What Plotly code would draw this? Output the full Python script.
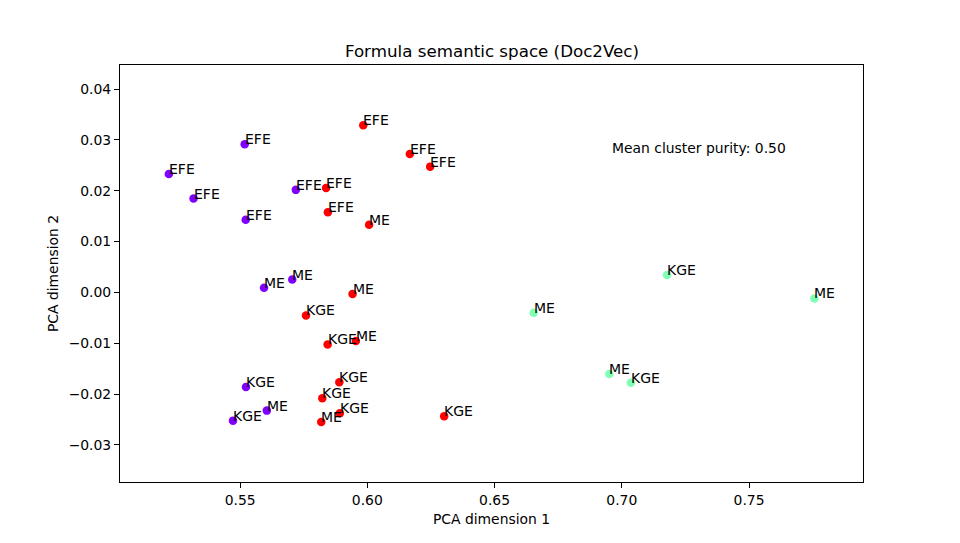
import plotly.graph_objects as go

# PCA coordinates of the formula embeddings
pc1 = [0.5220, 0.5317, 0.5518, 0.5522, 0.5719, 0.5594, 0.5705, 0.5523, 0.5605, 0.5472,
       0.5838, 0.5845, 0.5984, 0.6007, 0.6167, 0.6247, 0.5942, 0.5759, 0.5844, 0.5955,
       0.5890, 0.5823, 0.5892, 0.5819, 0.6302,
       0.7178, 0.7757, 0.6654, 0.6951, 0.7036]
pc2 = [0.0233, 0.01845, 0.02914, 0.01426, 0.02016, 0.0009, 0.00253, -0.0186, -0.02326, -0.02523,
       0.02055, 0.01578, 0.03287, 0.01328, 0.02723, 0.02473, -0.0003, -0.00454, -0.01024, -0.00957,
       -0.0177, -0.02084, -0.02379, -0.02548, -0.02438,
       0.0034, -0.0012, -0.0040, -0.01605, -0.01776]
formula_labels = ["EFE", "EFE", "EFE", "EFE", "EFE", "ME", "ME", "KGE", "ME", "KGE",
                  "EFE", "EFE", "EFE", "ME", "EFE", "EFE", "ME", "KGE", "KGE", "ME",
                  "KGE", "KGE", "KGE", "ME", "KGE",
                  "KGE", "ME", "ME", "ME", "KGE"]
cluster = [0] * 10 + [2] * 15 + [1] * 5
cluster_colors = ["#8000ff", "#80ffb4", "#ff0000"]
purity = 0.50

fig = go.Figure()
fig.add_trace(go.Scatter(
    x=pc1, y=pc2, mode="markers",
    marker=dict(size=8.5, color=[cluster_colors[c] for c in cluster], line=dict(width=0)),
    showlegend=False,
))

# labels next to each point, like matplotlib annotate
for xv, yv, lab in zip(pc1, pc2, formula_labels):
    fig.add_annotation(x=xv, y=yv, text=lab, showarrow=False,
                       xanchor="left", yanchor="bottom", xshift=-2, yshift=-5,
                       font=dict(size=14, color="black"))

fig.add_annotation(xref="paper", yref="paper", x=0.6593, y=0.784,
                   text=f"Mean cluster purity: {purity:.2f}", showarrow=False,
                   xanchor="left", yanchor="bottom", yshift=-3,
                   font=dict(size=13.9, color="black"))

axis_style = dict(showline=True, linecolor="black", linewidth=1, mirror=True,
                  ticks="outside", ticklen=5, tickcolor="black", showgrid=False,
                  zeroline=False, tickfont=dict(size=13.9, color="black"))

# the page body adds an 8px margin, so the figure is 8px smaller and margins shifted
fig.update_layout(
    width=952, height=535,
    font=dict(family="DejaVu Sans", color="black"),
    paper_bgcolor="white", plot_bgcolor="white",
    margin=dict(l=112, r=97, t=57, b=61),
    title=dict(text="Formula semantic space (Doc2Vec)", x=0.5084, xanchor="center",
               y=1 - 43.5 / 535, yanchor="middle", font=dict(size=16.7)),
    xaxis=dict(range=[0.5028, 0.7948], tickvals=[0.55, 0.60, 0.65, 0.70, 0.75],
               ticktext=["0.55", "0.60", "0.65", "0.70", "0.75"],
               title=dict(text="PCA dimension 1", font=dict(size=13.9), standoff=7),
               **axis_style),
    yaxis=dict(range=[-0.0373, 0.04472],
               tickvals=[-0.03, -0.02, -0.01, 0.0, 0.01, 0.02, 0.03, 0.04],
               ticktext=["\u22120.03", "\u22120.02", "\u22120.01", "0.00", "0.01", "0.02", "0.03", "0.04"],
               title=dict(text="PCA dimension 2", font=dict(size=13.9), standoff=6),
               **axis_style),
)

fig.write_html("out.html")
